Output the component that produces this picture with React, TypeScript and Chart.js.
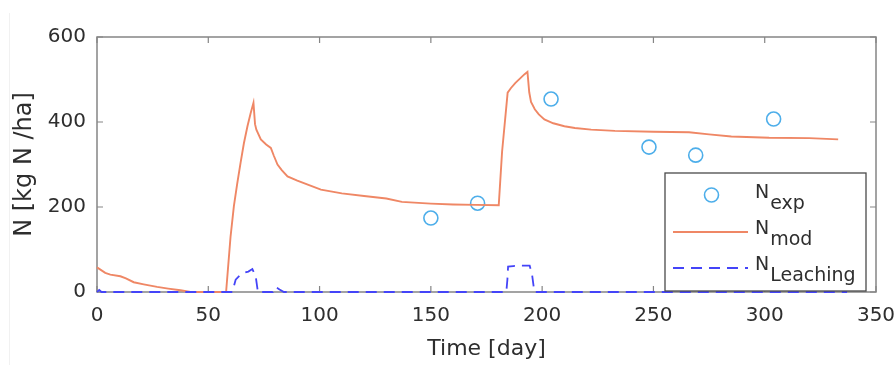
import React, { useEffect, useRef } from "react";
import { Chart, registerables } from "chart.js";

Chart.register(...registerables);

// ---- data ----
const expDays = [150, 171, 204, 248, 269, 304];
const expN = [174, 209, 454, 341, 322, 407];

const modDays = [0, 3.7, 6, 10.5, 13, 16.5, 21, 27, 32, 37.5, 42, 50, 58, 60, 61.5, 63, 64.5, 66, 67.6, 69, 70.3, 71, 71.6, 73.6, 76, 78.1, 79.5, 81.1, 83, 85.6, 90, 95, 100.6, 110, 120, 130, 137, 150, 160, 170, 180.5, 182, 184.5, 186, 188, 190, 192, 193.4, 194.2, 195, 196.7, 198.5, 201, 205, 210, 214.7, 222, 232.7, 250, 266, 275, 285, 302, 320, 333];
const modN = [58, 45, 41, 37, 32, 23, 18, 12, 8, 4, 0, 0, 0, 130, 202, 255, 304, 350, 390, 420, 445, 395, 382, 359, 347, 339, 320, 300, 287, 272, 262, 252, 241, 232, 226, 220, 212, 208, 206, 205, 204, 330, 469, 480, 492, 502, 512, 518, 470, 447, 430, 418, 406, 397, 390, 386, 382, 379, 377, 376, 371, 366, 363, 362, 359];

const leachDays = [0, 1, 2, 60.8, 62.3, 64, 66, 68, 69.8, 71.3, 72.3, 79, 80.3, 82, 84, 183.9, 184.4, 184.7, 187, 190, 194.4, 195.5, 196.5, 337];
const leachN = [0, 5, 0, 0, 29, 38, 45, 48, 54, 37, 0, 0, 12, 6, 0, 0, 30, 60, 61, 62, 62, 40, 0, 0];

const xTicks = [0, 50, 100, 150, 200, 250, 300, 350];
const yTicks = [0, 200, 400, 600];

const legendMain = ["N", "N", "N"];
const legendSub = ["exp", "mod", "Leaching"];

const expColor = "#4DAEEA";
const modColor = "#EF8765";
const leachColor = "#4444F8";
const axisColor = "#858585";
const textColor = "#2e2e2e";
const FONT = "'DejaVu Sans', sans-serif";

const framePlugin = {
  id: "frame",
  beforeDatasetsDraw(chart: any) {
    const { ctx, chartArea: a } = chart;
    const xs = chart.scales.x;
    const ys = chart.scales.y;
    ctx.save();
    ctx.strokeStyle = axisColor;
    ctx.lineWidth = 1.5;
    ctx.strokeRect(a.left, a.top, a.right - a.left, a.bottom - a.top);
    ctx.lineWidth = 1.2;
    const L = 6;
    ctx.beginPath();
    xs.ticks.forEach((t: any) => {
      const px = xs.getPixelForValue(t.value);
      ctx.moveTo(px, a.bottom);
      ctx.lineTo(px, a.bottom - L);
      ctx.moveTo(px, a.top);
      ctx.lineTo(px, a.top + L);
    });
    ys.ticks.forEach((t: any) => {
      const py = ys.getPixelForValue(t.value);
      ctx.moveTo(a.left, py);
      ctx.lineTo(a.left + L, py);
      ctx.moveTo(a.right, py);
      ctx.lineTo(a.right - L, py);
    });
    ctx.stroke();
    ctx.restore();
  },
};

const legendPlugin = {
  id: "customLegend",
  afterDraw(chart: any) {
    const { ctx, chartArea: a } = chart;
    const boxR = a.right - 10;
    const boxB = a.bottom - 1;
    const boxW = 201;
    const boxH = 118;
    const boxL = boxR - boxW;
    const boxT = boxB - boxH;
    ctx.save();
    ctx.fillStyle = "#ffffff";
    ctx.fillRect(boxL, boxT, boxW, boxH);
    ctx.strokeStyle = "#4a4a4a";
    ctx.lineWidth = 1.3;
    ctx.strokeRect(boxL, boxT, boxW, boxH);

    const rowBase = [boxT + 25, boxT + 61, boxT + 97];
    const symY = [boxT + 22, boxT + 59, boxT + 95];
    const sx0 = boxL + 8;
    const sx1 = boxL + 83;
    const textX = boxL + 90;

    // symbol 1: circle
    ctx.strokeStyle = expColor;
    ctx.lineWidth = 1.6;
    ctx.beginPath();
    ctx.arc((sx0 + sx1) / 2 + 1, symY[0], 7, 0, Math.PI * 2);
    ctx.stroke();
    // symbol 2: solid line
    ctx.strokeStyle = modColor;
    ctx.lineWidth = 2;
    ctx.beginPath();
    ctx.moveTo(sx0, symY[1]);
    ctx.lineTo(sx1, symY[1]);
    ctx.stroke();
    // symbol 3: dashed line
    ctx.strokeStyle = leachColor;
    ctx.lineWidth = 1.8;
    ctx.setLineDash([11, 7]);
    ctx.beginPath();
    ctx.moveTo(sx0, symY[2]);
    ctx.lineTo(sx1, symY[2]);
    ctx.stroke();
    ctx.setLineDash([]);

    ctx.fillStyle = textColor;
    ctx.textBaseline = "alphabetic";
    ctx.textAlign = "left";
    ctx.font = `19px ${FONT}`;
    for (let i = 0; i < legendMain.length; i++) {
      ctx.fillText(legendMain[i], textX, rowBase[i]);
      const w = ctx.measureText(legendMain[i]).width;
      ctx.fillText(legendSub[i], textX + w + 1, rowBase[i] + 11);
    }
    ctx.restore();
  },
};

export default function App() {
  const ref = useRef<HTMLCanvasElement | null>(null);
  useEffect(() => {
    if (!ref.current) return;
    const chart = new Chart(ref.current, {
      type: "scatter",
      data: {
        datasets: [
          {
            label: "N_Leaching",
            data: leachDays.map((d, i) => ({ x: d, y: leachN[i] })),
            showLine: true,
            borderColor: leachColor,
            borderWidth: 1.8,
            borderDash: [11, 7],
            pointRadius: 0,
            tension: 0,
            clip: 6,
            order: 0,
          },
          {
            label: "N_mod",
            data: modDays.map((d, i) => ({ x: d, y: modN[i] })),
            showLine: true,
            borderColor: modColor,
            borderWidth: 1.9,
            pointRadius: 0,
            tension: 0,
            clip: 6,
            order: 1,
          },
          {
            label: "N_exp",
            data: expDays.map((d, i) => ({ x: d, y: expN[i] })),
            showLine: false,
            borderColor: expColor,
            backgroundColor: "rgba(0,0,0,0)",
            borderWidth: 1.6,
            pointRadius: 7,
            pointStyle: "circle",
            clip: 10,
            order: 2,
          },
        ],
      },
      options: {
        animation: false,
        responsive: false,
        layout: { padding: { top: 37, right: 20, bottom: 0, left: 0 } },
        plugins: { legend: { display: false }, tooltip: { enabled: false } },
        scales: {
          x: {
            type: "linear",
            min: 0,
            max: 350,
            afterBuildTicks: (s: any) => {
              s.ticks = xTicks.map((v) => ({ value: v }));
            },
            afterFit: (s: any) => {
              s.height = 73;
              s.paddingLeft = 0;
              s.paddingRight = 0;
            },
            grid: { display: false, drawTicks: false },
            border: { display: false },
            ticks: {
              padding: 12,
              color: textColor,
              font: { family: FONT, size: 20 },
              maxRotation: 0,
            },
            title: {
              display: true,
              text: "Time [day]",
              color: textColor,
              font: { family: FONT, size: 22 },
              padding: { top: 0, bottom: 3 },
            },
          },
          y: {
            type: "linear",
            min: 0,
            max: 600,
            afterBuildTicks: (s: any) => {
              s.ticks = yTicks.map((v) => ({ value: v }));
            },
            afterFit: (s: any) => {
              s.width = 97;
              s.paddingTop = 0;
              s.paddingBottom = 0;
            },
            grid: { display: false, drawTicks: false },
            border: { display: false },
            ticks: {
              padding: 11,
              color: textColor,
              font: { family: FONT, size: 20 },
            },
            title: {
              display: true,
              text: "N [kg N /ha]",
              color: textColor,
              font: { family: FONT, size: 24 },
              padding: { top: 10, bottom: 0 },
            },
          },
        },
      },
      plugins: [framePlugin, legendPlugin],
    } as any);
    return () => chart.destroy();
  }, []);

  return (
    <div style={{ position: "absolute", left: 0, top: 0, width: 896, height: 365, background: "#fff" }}>
      <div style={{ position: "absolute", left: 9, top: 13, width: 1, height: 352, background: "#f1f1f1" }} />
      <canvas ref={ref} width={896} height={365} style={{ position: "absolute", left: 0, top: 0 }} />
    </div>
  );
}
